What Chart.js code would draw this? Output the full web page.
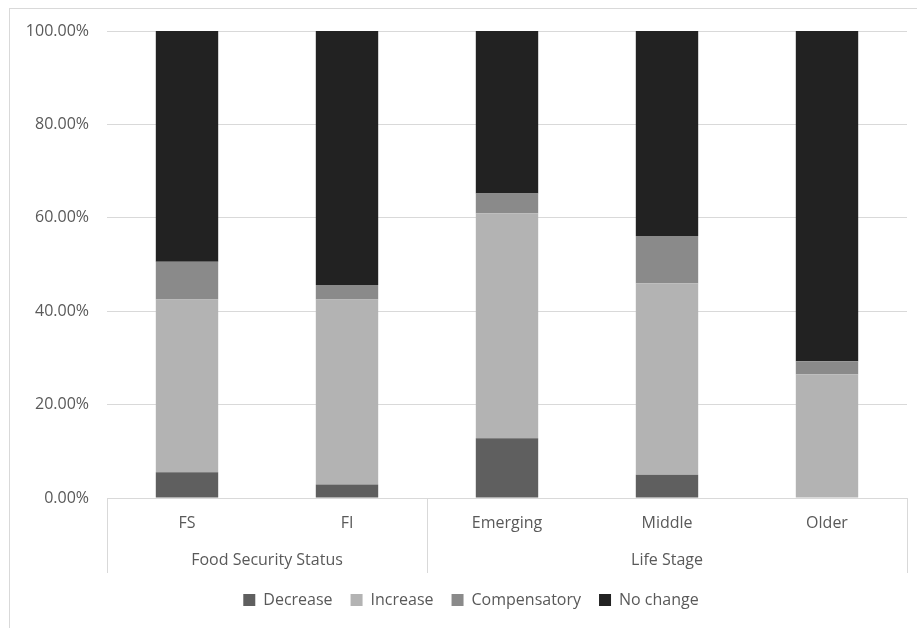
<!DOCTYPE html>
<html>
<head>
<meta charset="utf-8">
<script src="https://cdn.jsdelivr.net/npm/chart.js@4.4.1/dist/chart.umd.min.js"></script>
<style>
  html, body { margin: 0; padding: 0; background: #ffffff; }
  #wrap { width: 917px; height: 628px; position: relative; }
</style>
</head>
<body>
<div id="wrap"><canvas id="c" width="917" height="628"></canvas></div>
<script>
// Categories and their grouping on the two-level x axis
const categories = ['FS', 'FI', 'Emerging', 'Middle', 'Older'];
const groupNames = ['Food Security Status', 'Life Stage'];
const groupSizes = [2, 3];

// Share of respondents (percent) per response type
const decrease     = [5.5, 2.9, 12.8, 5.0, 0.0];
const increase     = [37.0, 39.6, 48.2, 41.0, 26.5];
const compensatory = [8.1, 3.1, 4.2, 10.1, 2.8];
const noChange     = [49.4, 54.4, 34.8, 43.9, 70.7];

const seriesNames = ['Decrease', 'Increase', 'Compensatory', 'No change'];
const seriesColors = ['#5f5f5f', '#b3b3b3', '#8a8a8a', '#222222'];

const textColor = '#595959';
const gridColor = '#d9d9d9';
const fontFamily = '"Open Sans", "Liberation Sans", sans-serif';

// Outer frame around the whole chart
const framePlugin = {
  id: 'frame',
  beforeDraw(chart) {
    const ctx = chart.ctx;
    ctx.save();
    ctx.strokeStyle = gridColor;
    ctx.lineWidth = 1;
    ctx.strokeRect(9.5, 8.5, chart.width, chart.height);
    ctx.restore();
  }
};

// Centre the legend under the plot area rather than the canvas
const legendShiftPlugin = {
  id: 'legendShift',
  afterLayout(chart) {
    const lg = chart.legend;
    if (!lg) return;
    const shift = (chart.chartArea.left + chart.chartArea.right) / 2 - (lg.left + lg.right) / 2 - 36;
    lg.left += shift;
    lg.right += shift;
  }
};

// Second level of the category axis: group labels and separators
const groupAxisPlugin = {
  id: 'groupAxis',
  afterDraw(chart) {
    const ctx = chart.ctx;
    const x = chart.scales.x;
    const area = chart.chartArea;
    const lineBottom = area.bottom + 75;
    const bounds = [area.left];
    let idx = 0;
    groupSizes.forEach((n, g) => {
      idx += n;
      if (idx < categories.length) {
        bounds.push((x.getPixelForValue(idx - 1) + x.getPixelForValue(idx)) / 2);
      } else {
        bounds.push(area.right);
      }
    });
    ctx.save();
    ctx.strokeStyle = gridColor;
    ctx.lineWidth = 1;
    bounds.forEach(b => {
      const px = Math.round(b) + 0.5;
      ctx.beginPath();
      ctx.moveTo(px, area.bottom);
      ctx.lineTo(px, lineBottom);
      ctx.stroke();
    });
    ctx.fillStyle = textColor;
    ctx.font = '16px ' + fontFamily;
    ctx.textAlign = 'center';
    ctx.textBaseline = 'middle';
    groupNames.forEach((name, g) => {
      ctx.fillText(name, (bounds[g] + bounds[g + 1]) / 2, area.bottom + 62);
    });
    ctx.restore();
  }
};

const seriesData = [decrease, increase, compensatory, noChange];

new Chart(document.getElementById('c'), {
  type: 'bar',
  data: {
    labels: categories,
    datasets: seriesNames.map((name, i) => ({
      label: name,
      data: seriesData[i],
      backgroundColor: seriesColors[i],
      borderWidth: 0,
      barPercentage: 0.39,
      categoryPercentage: 1.0
    }))
  },
  options: {
    responsive: false,
    animation: false,
    layout: { padding: { left: 9, right: 10, top: 31, bottom: 10 } },
    scales: {
      x: {
        stacked: true,
        grid: { display: false, drawTicks: false },
        border: { display: false },
        ticks: {
          color: textColor,
          font: { family: fontFamily, size: 16 },
          padding: 16,
          maxRotation: 0
        },
        afterFit(scale) { scale.height = 76; }
      },
      y: {
        stacked: true,
        min: 0,
        max: 100,
        grid: { color: gridColor, lineWidth: 1, drawTicks: false },
        border: { display: false },
        ticks: {
          stepSize: 20,
          color: textColor,
          font: { family: fontFamily, size: 16 },
          padding: 18,
          callback: v => v.toFixed(2) + '%'
        },
        afterFit(scale) { scale.width = 98; }
      }
    },
    plugins: {
      legend: {
        position: 'bottom',
        labels: {
          color: textColor,
          font: { family: fontFamily, size: 16 },
          boxWidth: 12,
          boxHeight: 12,
          padding: 18
        }
      },
      tooltip: { enabled: false }
    }
  },
  plugins: [framePlugin, legendShiftPlugin, groupAxisPlugin]
});
</script>
</body>
</html>
